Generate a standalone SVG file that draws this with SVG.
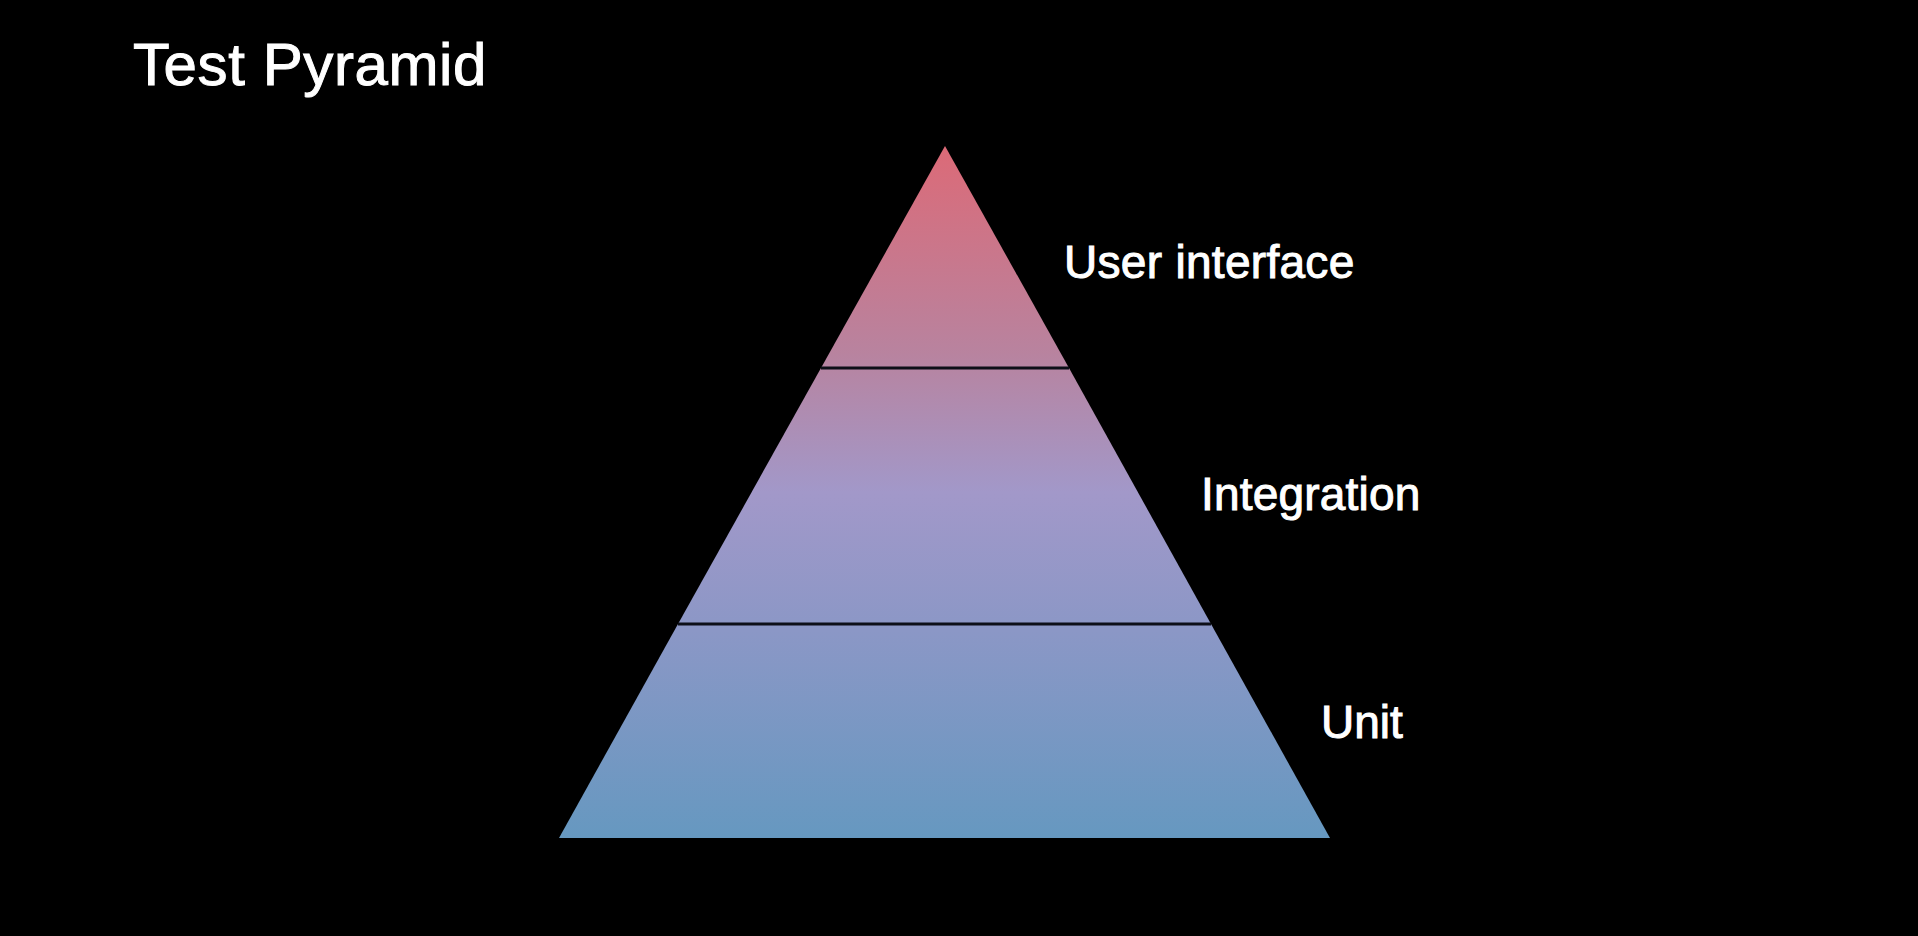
<svg xmlns="http://www.w3.org/2000/svg" width="1918" height="936" viewBox="0 0 1918 936">
  <defs>
    <linearGradient id="pyr" gradientUnits="userSpaceOnUse" x1="0" y1="146" x2="0" y2="838">
      <stop offset="0" stop-color="#dc6a77"/>
      <stop offset="0.3" stop-color="#b8839f"/>
      <stop offset="0.5" stop-color="#a298c9"/>
      <stop offset="0.7" stop-color="#8b97c6"/>
      <stop offset="1" stop-color="#6698c0"/>
    </linearGradient>
  </defs>
  <style>
    .lbl { font-family: "Liberation Sans", Arial, sans-serif; fill: #ffffff; stroke: #ffffff; stroke-width: 1; }
    .tier { fill: url(#pyr); }
    .div { stroke: #0d0f18; stroke-width: 3; }
  </style>
  <rect x="0" y="0" width="1918" height="936" fill="#000000"/>
  <g id="title">
    <text class="lbl" x="133" y="85" font-size="60" letter-spacing="0.6">Test Pyramid</text>
  </g>
  <g id="tier-ui">
    <polygon class="tier" points="945,146 1069,368 821,368"/>
    <text class="lbl" x="1064" y="278" font-size="46" letter-spacing="0.3">User interface</text>
  </g>
  <g id="tier-integration">
    <polygon class="tier" points="821,368 1069,368 1211,624 678,624"/>
    <text class="lbl" x="1201" y="510" font-size="46" letter-spacing="0.2">Integration</text>
  </g>
  <g id="tier-unit">
    <polygon class="tier" points="678,624 1211,624 1330,838 559,838"/>
    <text class="lbl" x="1321" y="738" font-size="46">Unit</text>
  </g>
  <g id="connectors">
    <line class="div" x1="821" y1="368" x2="1069" y2="368"/>
    <line class="div" x1="678" y1="624" x2="1211" y2="624"/>
  </g>
</svg>
